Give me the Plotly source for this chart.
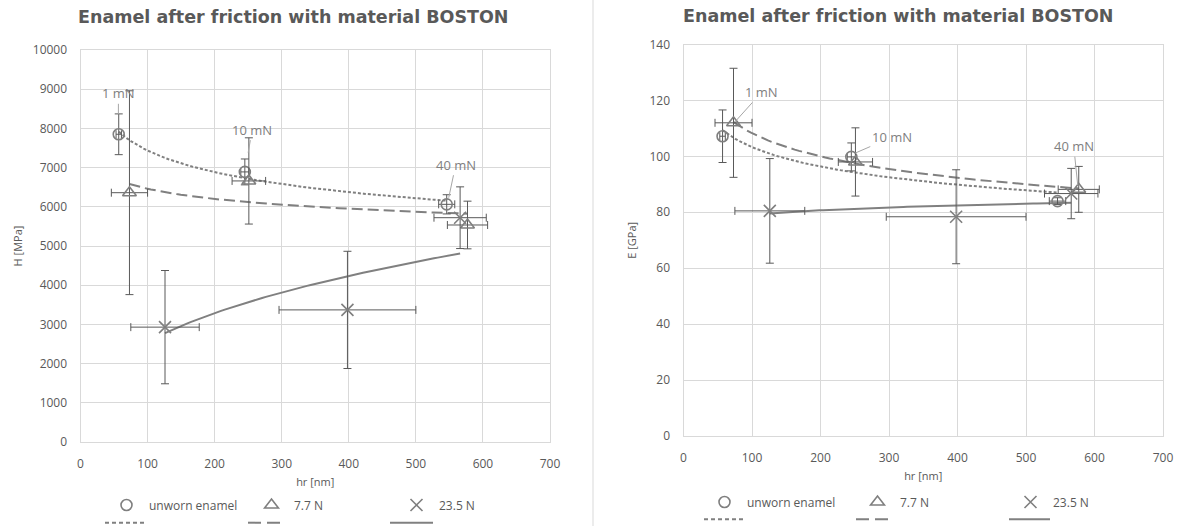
import numpy as np
import plotly.graph_objects as go

W, H = 1184, 526

# ---- data ----
hr_unworn = [57, 245, 546]
hr_unworn_err = [4, 6, 12]
hr_77 = [73, 251, 577]
hr_77_err = [27, 25, 30]
hr_235 = [126, 398, 566]
hr_235_err = [51, 102, 39]

H_unworn = [7850, 6890, 6063]
H_unworn_err = [520, 330, 245]
H_77 = [6360, 6660, 5536]
H_77_err = [2600, 1100, 608]
H_235 = [2930, 3370, 5722]
H_235_err = [1445, 1495, 787]

E_unworn = [107.2, 99.8, 84.0]
E_unworn_err = [9.4, 5.0, 1.2]
E_77 = [112.0, 98.0, 88.2]
E_77_err = [19.5, 12.2, 8.2]
E_235 = [80.5, 78.4, 86.7]
E_235_err = [18.7, 16.8, 9.0]

series_names = ["unworn enamel", "7.7 N", "23.5 N"]
load_labels = ["1 mN", "10 mN", "40 mN"]
title_text = "Enamel after friction with material BOSTON"

GRID = "#d9d9d9"
TXT = "#595959"
MK = "#7f7f7f"
ERR = "#595959"
FONT = "Open Sans"


def power_trend(x, y, n=80):
    b, ln_a = np.polyfit(np.log(x), np.log(y), 1)
    xs = np.linspace(min(x), max(x), n)
    return xs, np.exp(ln_a) * xs ** b


def px_x(p):
    return p / W


def px_y(p):
    return 1 - p / H


fig = go.Figure()

symbols = ["circle-open", "triangle-up-open", "x-thin-open"]
sizes = [11, 12, 12]
dashes = ["3px,2px", "11px,5px", "solid"]

charts = [
    ("x", "y", "legend", [H_unworn, H_77, H_235], [H_unworn_err, H_77_err, H_235_err]),
    ("x2", "y2", "legend2", [E_unworn, E_77, E_235], [E_unworn_err, E_77_err, E_235_err]),
]
hrs = [hr_unworn, hr_77, hr_235]
hr_errs = [hr_unworn_err, hr_77_err, hr_235_err]

for xa, ya, lg, ys, yerrs in charts:
    for i in range(3):
        tx, ty = power_trend(hrs[i], ys[i])
        fig.add_trace(go.Scatter(
            x=tx, y=ty, mode="lines", xaxis=xa, yaxis=ya, showlegend=False,
            line=dict(color="#808080", width=2, dash=dashes[i]), hoverinfo="skip"))
    for i in range(3):
        fig.add_trace(go.Scatter(
            x=hrs[i], y=ys[i], mode="markers", name=series_names[i],
            xaxis=xa, yaxis=ya, legend=lg,
            marker=dict(symbol=symbols[i], size=sizes[i], color=MK,
                        line=dict(color=MK, width=1.6)),
            error_y=dict(type="data", array=yerrs[i], color=ERR, thickness=1, width=4),
            error_x=dict(type="data", array=hr_errs[i], color=ERR, thickness=1, width=4),
        ))

axis_common = dict(
    showgrid=True, gridcolor=GRID, gridwidth=1, zeroline=False,
    showline=True, linecolor=GRID, linewidth=1, mirror=True,
    ticks="", tickfont=dict(family=FONT, size=12, color=TXT),
    automargin=False,
)
title_font = dict(family=FONT, size=11, color=TXT)

fig.update_layout(
    width=W, height=H,
    margin=dict(l=0, r=0, t=0, b=0),
    paper_bgcolor="white", plot_bgcolor="white",
    xaxis=dict(domain=[px_x(80.5), px_x(550)], range=[0, 700], dtick=100,
               title=dict(text="hr [nm]", font=title_font, standoff=6),
               anchor="y", ticklabelstandoff=11, **axis_common),
    yaxis=dict(domain=[px_y(442), px_y(50)], range=[0, 10000], dtick=1000,
               tickformat="d",
               title=dict(text="H [MPa]", font=title_font, standoff=7),
               anchor="x", ticklabelstandoff=10, **axis_common),
    xaxis2=dict(domain=[px_x(683.5), px_x(1163)], range=[0, 700], dtick=100,
                title=dict(text="hr [nm]", font=title_font, standoff=6),
                anchor="y2", ticklabelstandoff=11, **axis_common),
    yaxis2=dict(domain=[px_y(436), px_y(44.5)], range=[0, 140], dtick=20,
                title=dict(text="E [GPa]", font=title_font, standoff=10),
                anchor="x2", ticklabelstandoff=10, **axis_common),
    legend=dict(orientation="h", x=px_x(104), xanchor="left", y=px_y(505), yanchor="middle",
                entrywidth=95, itemwidth=35, font=dict(family=FONT, size=12, color=TXT),
                bgcolor="rgba(0,0,0,0)", itemsizing="trace"),
    legend2=dict(orientation="h", x=px_x(702), xanchor="left", y=px_y(502), yanchor="middle",
                 entrywidth=103, itemwidth=35, font=dict(family=FONT, size=12, color=TXT),
                 bgcolor="rgba(0,0,0,0)", itemsizing="trace"),
    showlegend=True,
)

# titles
for cx, cy in [(293.5, 17), (898.5, 16)]:
    fig.add_annotation(xref="paper", yref="paper", x=px_x(cx), y=px_y(cy),
                       xanchor="center", yanchor="middle", showarrow=False,
                       text=title_text,
                       font=dict(family="DejaVu Sans", size=17.5, color=TXT, weight="bold"))

# load labels with leader lines (tip at data coordinates)
label_specs = [
    ("x", "y", [(56.5, 8360, 0, -21), (250, 7380, 4, -23), (549, 6232, 7, -33)]),
    ("x2", "y2", [(75, 112.3, 27, -30), (250, 101.1, 37, -16), (575.5, 89.7, -4, -39)]),
]
for xa, ya, specs in label_specs:
    for (lx, ly, ax, ay), t in zip(specs, load_labels):
        fig.add_annotation(xref=xa, yref=ya, x=lx, y=ly, ax=ax, ay=ay, text=t,
                           showarrow=True, arrowhead=0, arrowwidth=1, arrowcolor="#a6a6a6",
                           standoff=0, font=dict(family=FONT, size=13, color="#808080"))

# trendline legend keys (second legend row, clipped at bottom)
keys = [
    [(105, 147, 522.7), (248, 284, 522.7), (390, 433, 522.7)],
    [(704, 745, 519.3), (856, 892, 519.3), (1009, 1050, 519.3)],
]
key_dash = ["4px,3px", "13px,6px", "solid"]
for row in keys:
    for (x0, x1, yy), d in zip(row, key_dash):
        fig.add_shape(type="line", xref="paper", yref="paper",
                      x0=px_x(x0), x1=px_x(x1), y0=px_y(yy), y1=px_y(yy),
                      line=dict(color="#808080", width=2, dash=d))

# divider between the two charts
fig.add_shape(type="line", xref="paper", yref="paper", x0=px_x(593), x1=px_x(593),
              y0=0, y1=1, line=dict(color=GRID, width=1))

fig.write_html("out.html", config={"displayModeBar": False},
               post_script="document.body.style.margin='0';document.body.style.overflow='hidden';")
